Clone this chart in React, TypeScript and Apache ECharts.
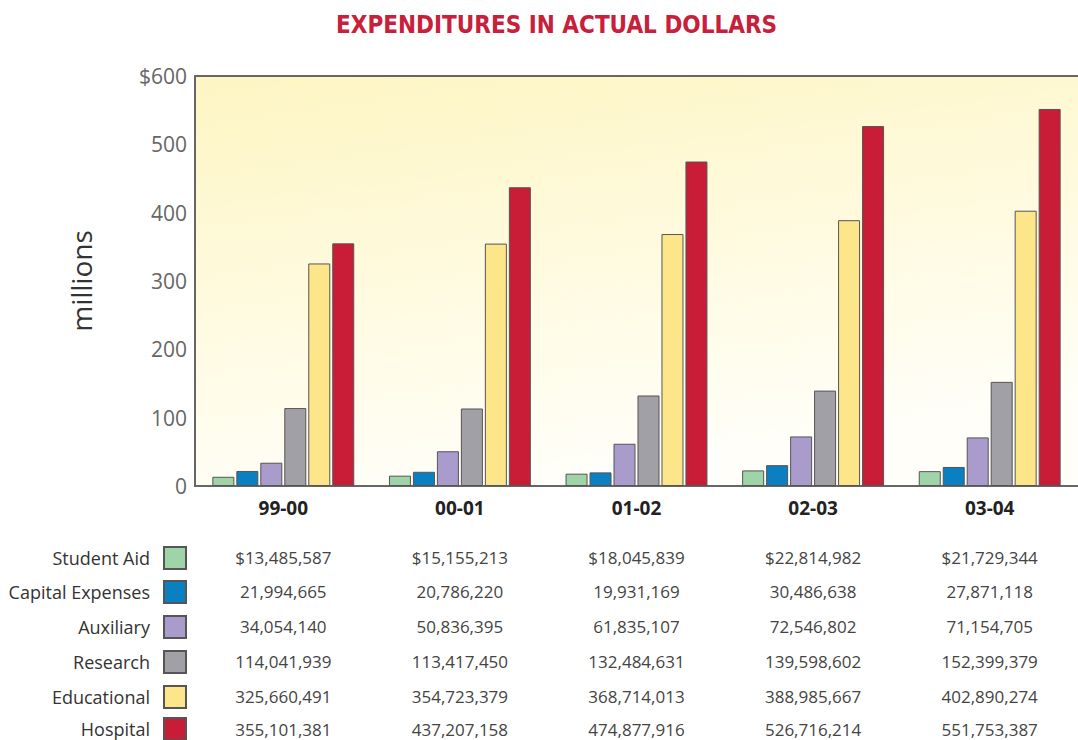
import React, { useEffect, useRef } from "react";
import * as echarts from "echarts";

const categories = ["99-00", "00-01", "01-02", "02-03", "03-04"];
const seriesNames = ["Student Aid", "Capital Expenses", "Auxiliary", "Research", "Educational", "Hospital"];
const studentAid = [13485587, 15155213, 18045839, 22814982, 21729344];
const capitalExpenses = [21994665, 20786220, 19931169, 30486638, 27871118];
const auxiliary = [34054140, 50836395, 61835107, 72546802, 71154705];
const research = [114041939, 113417450, 132484631, 139598602, 152399379];
const educational = [325660491, 354723379, 368714013, 388985667, 402890274];
const hospital = [355101381, 437207158, 474877916, 526716214, 551753387];
const yTicks = [0, 100, 200, 300, 400, 500, 600];
const colors = ["#9fd4a8", "#0a80c2", "#a99bcc", "#a0a0a6", "#fde68a", "#c91d37"];

const allSeries = [studentAid, capitalExpenses, auxiliary, research, educational, hospital];

const fmt = (v: number, dollar: boolean) =>
  (dollar ? "$" : "") + v.toString().replace(/\B(?=(\d{3})+(?!\d))/g, ",");

export default function App() {
  const ref = useRef<HTMLDivElement>(null);
  useEffect(() => {
    document.body.style.margin = "0";
    const chart = echarts.init(ref.current!, null, { renderer: "svg" });
    const rowCenters = [557, 591, 626, 661, 696, 729];
    const tableAxes = allSeries.map((arr, i) => ({
      type: "category",
      gridIndex: 0,
      position: "bottom",
      offset: rowCenters[i] - 9 - 486,
      data: categories,
      axisLine: { show: false },
      axisTick: { show: false },
      axisLabel: {
        margin: 0,
        fontFamily: "Open Sans",
        fontSize: 17,
        lineHeight: 18,
        color: "#444",
        formatter: (_: string, idx: number) => fmt(arr[idx], i === 0),
      },
    }));
    const legends = seriesNames.map((name, i) => ({
      orient: "horizontal",
      align: "right",
      right: 891,
      top: Math.min(rowCenters[i] - 11, 717),
      padding: 0,
      itemWidth: 22,
      itemHeight: 22,
      selectedMode: false,
      icon: "rect",
      data: [name],
      textStyle: {
        fontFamily: "Open Sans",
        fontSize: 18,
        lineHeight: 18,
        color: "#333",
        padding: [0, 9, 0, 0],
      },
    }));
    chart.setOption({
      animation: false,
      title: {
        text: "EXPENDITURES IN ACTUAL DOLLARS",
        left: 331,
        top: 8,
        textStyle: {
          color: "#c8203a",
          fontSize: 24,
          fontWeight: "bold",
          fontFamily: "'Liberation Sans Narrow', 'DejaVu Sans Condensed', sans-serif",
        },
      },
      legend: legends,
      grid: {
        left: 195,
        right: -1,
        top: 76,
        bottom: 254,
        show: true,
        borderWidth: 0,
        backgroundColor: {
          type: "linear",
          x: 0,
          y: 0,
          x2: 0.3,
          y2: 1,
          colorStops: [
            { offset: 0, color: "#fdf5c2" },
            { offset: 0.6, color: "#fffbe3" },
            { offset: 1, color: "#fffef8" },
          ],
        },
      },
      xAxis: [
        {
          type: "category",
          data: categories,
          axisLine: { lineStyle: { color: "#666", width: 2 } },
          axisTick: { show: false },
          axisLabel: {
            margin: 12,
            fontFamily: "Open Sans",
            fontWeight: "bold",
            fontSize: 19,
            color: "#222",
          },
        },
        {
          type: "category",
          position: "top",
          data: categories,
          axisLine: { lineStyle: { color: "#666", width: 2 } },
          axisTick: { show: false },
          axisLabel: { show: false },
        },
        ...tableAxes,
      ],
      yAxis: {
        type: "value",
        min: yTicks[0],
        max: yTicks[yTicks.length - 1],
        interval: 100,
        name: "millions",
        nameLocation: "middle",
        nameRotate: 90,
        nameGap: 100,
        nameTextStyle: { fontFamily: "Open Sans", fontSize: 28, color: "#333" },
        axisLine: { show: true, lineStyle: { color: "#666", width: 2 } },
        axisTick: { show: false },
        splitLine: { show: false },
        axisLabel: {
          margin: 8,
          fontFamily: "Open Sans",
          fontSize: 21,
          color: "#666",
          formatter: (v: number) => (v === 600 ? "$600" : String(v)),
        },
      },
      series: allSeries.map((arr, i) => ({
        name: seriesNames[i],
        type: "bar",
        xAxisIndex: 0,
        barWidth: 22,
        barGap: "9%",
        data: arr.map((v) => v / 1e6),
        itemStyle: { color: colors[i], borderColor: "#555", borderWidth: 1 },
      })),
    });
    return () => chart.dispose();
  }, []);
  return <div ref={ref} style={{ width: 1078, height: 740 }} />;
}
